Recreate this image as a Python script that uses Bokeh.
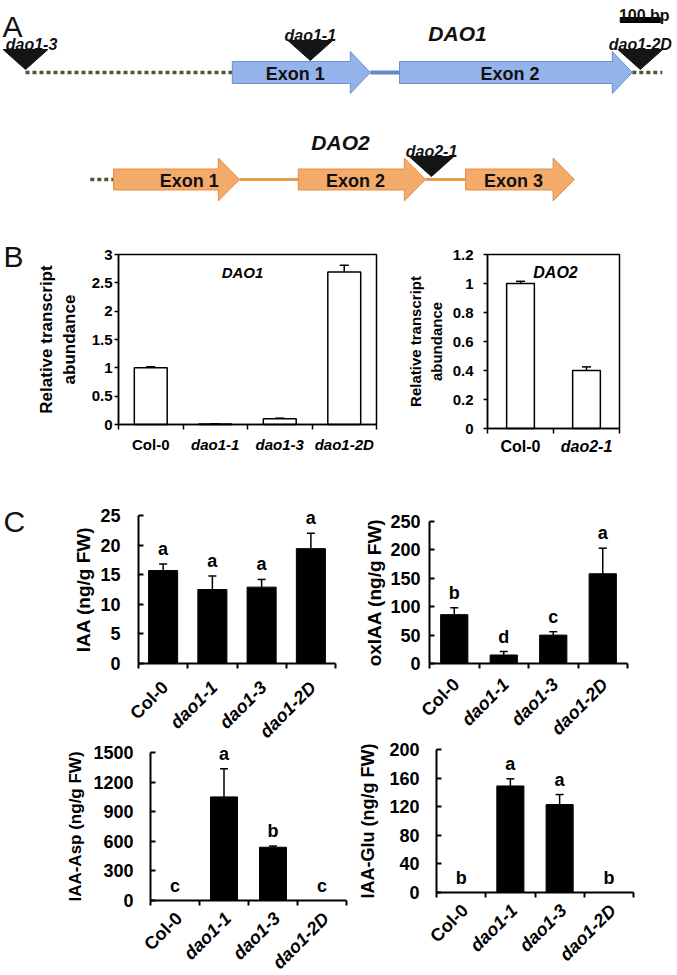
import math
from bokeh.plotting import figure
from bokeh.layouts import column, row
from bokeh.models import (Range1d, FixedTicker, NumeralTickFormatter, ColumnDataSource,
                          Whisker, TeeHead, LabelSet, Label, CustomJSTickFormatter,
                          BoxAnnotation)
from bokeh.core.properties import value, field
from bokeh.embed import file_html
from bokeh.resources import INLINE

FONT = "Liberation Sans"

# ================= DATA =================
# Panel A: gene models (positions in bp)
dao1_exon_start = [517, 935]
dao1_exon_end = [862, 1517]
dao1_exon_names = ["Exon 1", "Exon 2"]
dao1_flank_start = [0, 1517]
dao1_flank_end = [517, 1592]
dao1_intron_start = [862]
dao1_intron_end = [935]
dao1_alleles = ["dao1-3", "dao1-1", "dao1-2D"]
dao1_allele_bp = [0, 712, 1537]

dao2_exon_start = [220, 682, 1100]
dao2_exon_end = [535, 1000, 1372]
dao2_exon_names = ["Exon 1", "Exon 2", "Exon 3"]
dao2_flank_start = [162]
dao2_flank_end = [220]
dao2_intron_start = [535, 1000]
dao2_intron_end = [682, 1100]
dao2_alleles = ["dao2-1"]
dao2_allele_bp = [1015]
scale_bar_bp = 100
scale_bar_start_bp = 1487

# Panel B: relative transcript abundance
b_dao1_genotypes = ["Col-0", "dao1-1", "dao1-3", "dao1-2D"]
b_dao1_expr = [1.0, 0.01, 0.10, 2.69]
b_dao1_err = [0.02, 0.004, 0.012, 0.12]
b_dao1_yticks = [0, 0.5, 1, 1.5, 2, 2.5, 3]
b_dao2_genotypes = ["Col-0", "dao2-1"]
b_dao2_expr = [1.0, 0.40]
b_dao2_err = [0.015, 0.025]
b_dao2_yticks = [0, 0.2, 0.4, 0.6, 0.8, 1.0, 1.2]

# Panel C: metabolite levels (ng/g FW)
c_genotypes = ["Col-0", "dao1-1", "dao1-3", "dao1-2D"]
iaa = [15.7, 12.5, 12.9, 19.4]
iaa_err = [1.1, 2.3, 1.3, 2.6]
iaa_letters = ["a", "a", "a", "a"]
iaa_yticks = [0, 5, 10, 15, 20, 25]
oxiaa = [86, 15, 50, 158]
oxiaa_err = [12, 6, 6, 45]
oxiaa_letters = ["b", "d", "c", "a"]
oxiaa_yticks = [0, 50, 100, 150, 200, 250]
iaa_asp = [0, 1050, 540, 0]
iaa_asp_err = [0, 285, 12, 0]
iaa_asp_letters = ["c", "a", "b", "c"]
iaa_asp_yticks = [0, 300, 600, 900, 1200, 1500]
iaa_glu = [0, 149, 123, 0]
iaa_glu_err = [0, 10, 14, 0]
iaa_glu_letters = ["b", "a", "a", "b"]
iaa_glu_yticks = [0, 40, 80, 120, 160, 200]

# ================= PANEL A =================
PX_PER_BP = 0.4
BP0_PX = 25
A_W, A_H = 677, 215


def bp_at(px):
    return (px - BP0_PX) / PX_PER_BP


pa = figure(width=A_W, height=A_H, x_range=Range1d(bp_at(0), bp_at(A_W)),
            y_range=Range1d(A_H, 0), x_axis_type=None, y_axis_type=None,
            output_backend="svg", toolbar_location=None, min_border=0)
pa.grid.visible = False
pa.outline_line_color = None


def arrow_shapes(starts, ends, yc, bh, hh, hl):
    xs, ys = [], []
    for x0, x1 in zip(starts, ends):
        xs.append([x0, x1 - hl, x1 - hl, x1, x1 - hl, x1 - hl, x0])
        ys.append([yc - bh, yc - bh, yc - hh, yc, yc + hh, yc + bh, yc + bh])
    return xs, ys


def in_exon(bp, starts, ends):
    return any(s <= bp <= e for s, e in zip(starts, ends))


def draw_gene(exs, exe, names, fls, fle, ins, ine, alleles, allele_bp, yc, bh, hh, hl,
              fill, line, intron_color, intron_w, name_nudge):
    pa.segment(x0=fls, x1=fle, y0=[yc] * len(fls), y1=[yc] * len(fls),
               line_color="#4b5730", line_width=3.5, line_dash="4 3")
    pa.segment(x0=ins, x1=ine, y0=[yc] * len(ins), y1=[yc] * len(ins),
               line_color=intron_color, line_width=intron_w)
    xs, ys = arrow_shapes(exs, exe, yc, bh, hh, hl)
    pa.patches(xs=xs, ys=ys, fill_color=fill, line_color=line, line_width=1)
    lx = [s + (e - s) / 2 - hl * 0.3 + n for s, e, n in zip(exs, exe, name_nudge)]
    pa.text(x=lx, y=[yc + 1] * len(names), text=names, text_align="center",
            text_baseline="middle", text_font=value(FONT), text_font_style="bold",
            text_font_size="18px", text_color="#111111")
    half = 56
    txs, tys, lxs, lys = [], [], [], []
    for bp in allele_bp:
        apex = yc - bh - 1 if in_exon(bp, exs, exe) else yc - 3
        top = apex - 20
        txs.append([bp - half, bp + half, bp])
        tys.append([top, top, apex])
        lys.append(top - 5)
        # keep a label that would run past the left edge inside the picture
        lxs.append(max(bp, bp_at(31)))
    pa.patches(xs=txs, ys=tys, fill_color="#151515", line_color="#151515")
    pa.text(x=lxs, y=lys, text=alleles, text_align="center", text_baseline="alphabetic",
            text_font=value(FONT), text_font_style="bold italic", text_font_size="16px",
            text_color="#111111")


draw_gene(dao1_exon_start, dao1_exon_end, dao1_exon_names, dao1_flank_start, dao1_flank_end,
          dao1_intron_start, dao1_intron_end, dao1_alleles, dao1_allele_bp,
          72, 11, 21, 50, "#93b3ea", "#6d8fcf", "#6489c9", 4, [0, 0])
draw_gene(dao2_exon_start, dao2_exon_end, dao2_exon_names, dao2_flank_start, dao2_flank_end,
          dao2_intron_start, dao2_intron_end, dao2_alleles, dao2_allele_bp,
          179, 10.5, 21.5, 53, "#f4aa69", "#e08f48", "#e99b58", 3, [48, 0, 0])

pa.text(x=[bp_at(457), bp_at(340)], y=[33, 142], text=["DAO1", "DAO2"], text_align="center",
        text_baseline="alphabetic", text_font=value(FONT), text_font_style="bold italic",
        text_font_size="21px", text_color="#111111")
pa.quad(left=[scale_bar_start_bp], right=[scale_bar_start_bp + scale_bar_bp], top=[17],
        bottom=[22], fill_color="black", line_color="black")
pa.text(x=[scale_bar_start_bp + scale_bar_bp / 2 + 10], y=[15], text=["%d bp" % scale_bar_bp],
        text_align="center", text_baseline="alphabetic", text_font=value(FONT),
        text_font_style="bold", text_font_size="16px", text_color="#111111")
pa.text(x=[bp_at(2)], y=[26], text=["A"], text_align="left", text_baseline="alphabetic",
        text_font=value(FONT), text_font_size="30px", text_color="#111111")


# ================= BAR PANELS =================
def make_bar(fw, fh, L, T, W, H, cats, vals, errs, ymax, yticks, ylabel, boxed, bar_w,
             tick_fs, ylab_fs, cat_fs, tick_standoff, ylab_standoff, letters=None,
             rotate=False, cat_dx=0, cat_dy=10, title=None, title_px=None,
             panel_letter=None, letter_px=None):
    """L, T, W, H: canvas pixel box of the data area (0..n, 0..ymax)."""
    n = len(cats)

    def dx(px):
        return (px - L) / W * n

    def dy(py):
        return (T + H - py) / H * ymax

    p = figure(width=fw, height=fh, x_range=Range1d(dx(0), dx(fw)),
               y_range=Range1d(dy(fh), dy(0)), output_backend="svg",
               toolbar_location=None, min_border=0)
    p.grid.visible = False
    p.outline_line_color = None
    p.background_fill_color = "white"
    p.border_fill_color = "white"
    centers = [i + 0.5 for i in range(n)]
    src = ColumnDataSource(dict(x=centers, top=vals))
    keep = [i for i, e in enumerate(errs) if e > 0]
    wsrc = ColumnDataSource(dict(
        x=[centers[i] for i in keep],
        upper=[vals[i] + errs[i] for i in keep],
        lower=[(vals[i] - errs[i]) if boxed else vals[i] for i in keep]))
    lw = 1.5 if boxed else 2
    if boxed:
        p.vbar(x="x", top="top", width=bar_w, source=src, fill_color="white",
               line_color="black", line_width=1.5)
        p.add_layout(Whisker(source=wsrc, base="x", upper="upper", lower="lower",
                             dimension="height", line_color="black", line_width=1.5,
                             upper_head=TeeHead(size=9, line_color="black", line_width=1.5),
                             lower_head=TeeHead(size=9, line_color="black", line_width=1.5)))
        p.add_layout(BoxAnnotation(left=0, right=n, bottom=0, top=ymax, fill_color=None,
                                   fill_alpha=0, line_color="black", line_alpha=1,
                                   line_width=1.5))
    else:
        p.vbar(x="x", top="top", width=bar_w, source=src, fill_color="black",
               line_color="black", line_width=1)
        p.add_layout(Whisker(source=wsrc, base="x", upper="upper", lower="lower",
                             dimension="height", line_color="black", line_width=1.5,
                             upper_head=TeeHead(size=8, line_color="black", line_width=1.5),
                             lower_head=None))

    # x axis: ticks at category boundaries, category names drawn by a LabelSet
    p.xaxis.fixed_location = 0
    p.xaxis.bounds = (0, n)
    p.xaxis.ticker = FixedTicker(ticks=list(range(n + 1)))
    p.xaxis.formatter = CustomJSTickFormatter(code="return ''")
    p.xaxis.major_tick_out = 5
    p.xaxis.major_tick_in = 0
    p.xaxis.major_tick_line_color = "black"
    p.xaxis.major_tick_line_width = lw
    p.xaxis.axis_line_color = "black"
    p.xaxis.axis_line_width = lw

    # y axis
    p.yaxis.fixed_location = 0
    p.yaxis.bounds = (0, ymax)
    p.yaxis.ticker = FixedTicker(ticks=yticks)
    p.yaxis.formatter = NumeralTickFormatter(format="0.[0]")
    p.yaxis.major_tick_out = 4 if boxed else 0
    p.yaxis.major_tick_in = 0 if boxed else 5
    p.yaxis.major_tick_line_color = "black"
    p.yaxis.major_tick_line_width = lw
    p.yaxis.axis_line_color = "black"
    p.yaxis.axis_line_width = lw
    p.yaxis.major_label_text_font = FONT
    p.yaxis.major_label_text_font_style = "bold"
    p.yaxis.major_label_text_font_size = tick_fs
    p.yaxis.major_label_text_color = "black"
    p.yaxis.major_label_standoff = tick_standoff
    p.yaxis.axis_label = ylabel
    p.yaxis.axis_label_text_font = FONT
    p.yaxis.axis_label_text_font_style = "bold"
    p.yaxis.axis_label_text_font_size = ylab_fs
    p.yaxis.axis_label_text_color = "black"
    p.yaxis.axis_label_standoff = ylab_standoff

    styles = ["bold" if c.startswith("Col") else "bold italic" for c in cats]
    lsrc = ColumnDataSource(dict(x=[c + cat_dx / W * n for c in centers],
                                 y=[dy(T + H + cat_dy)] * n, text=cats, fs=styles))
    if rotate:
        p.add_layout(LabelSet(x="x", y="y", text="text", source=lsrc, angle=math.pi / 4,
                              text_align="right", text_baseline="middle",
                              text_font=value(FONT), text_font_style=field("fs"),
                              text_font_size=cat_fs, text_color="black"))
    else:
        p.add_layout(LabelSet(x="x", y="y", text="text", source=lsrc,
                              text_align="center", text_baseline="top",
                              text_font=value(FONT), text_font_style=field("fs"),
                              text_font_size=cat_fs, text_color="black"))

    if letters is not None:
        tsrc = ColumnDataSource(dict(x=centers, y=[v + e for v, e in zip(vals, errs)],
                                     t=letters))
        p.text(x="x", y="y", text="t", source=tsrc, text_align="center",
               text_baseline="bottom", y_offset=-5, text_font=value(FONT),
               text_font_style="bold", text_font_size="18px", text_color="black")

    if title is not None:
        p.add_layout(Label(x=dx(title_px[0]), y=dy(title_px[1]), text=title,
                           text_align="center", text_baseline="middle", text_font=FONT,
                           text_font_style="bold italic", text_font_size=title_px[2],
                           text_color="black"))
    if panel_letter is not None:
        p.add_layout(Label(x=dx(letter_px[0]), y=dy(letter_px[1]), text=panel_letter,
                           text_align="left", text_baseline="alphabetic", text_font=FONT,
                           text_font_style="normal", text_font_size="30px",
                           text_color="#111111"))
    return p


# Panel B  (figure row: y 215-480)
pb1 = make_bar(400, 265, 118, 39, 258, 170, b_dao1_genotypes, b_dao1_expr, b_dao1_err, 3,
               b_dao1_yticks, "Relative transcript\nabundance", True, 0.51,
               "15px", "17px", "15px", 2, 10, cat_dy=11,
               title="DAO1", title_px=(242, 57, "15px"), panel_letter="B", letter_px=(3, 41))
pb2 = make_bar(277, 265, 87, 39, 132, 174, b_dao2_genotypes, b_dao2_expr, b_dao2_err, 1.2,
               b_dao2_yticks, "Relative transcript\nabundance", True, 0.42,
               "15px", "15px", "16px", 10, 5, cat_dy=9,
               title="DAO2", title_px=(155, 57, "16px"))

# Panel C, left column (y 480-742, 742-975)
pc1 = make_bar(350, 262, 138, 35, 197, 148, c_genotypes, iaa, iaa_err, 25, iaa_yticks,
               "IAA (ng/g FW)", False, 0.59, "18px", "19px", "18px", 18, 3,
               letters=iaa_letters, rotate=True, cat_dx=2, cat_dy=21,
               panel_letter="C", letter_px=(3, 41))
pc3 = make_bar(350, 233, 150, 10, 196, 148, c_genotypes, iaa_asp, iaa_asp_err, 1500,
               iaa_asp_yticks, "IAA-Asp (ng/g FW)", False, 0.55, "18px", "17px", "18px", 17, 5,
               letters=iaa_asp_letters, rotate=True, cat_dx=4, cat_dy=15)
# Panel C, right column (y 480-739, 739-975)
pc2 = make_bar(327, 259, 79, 41, 198, 142, c_genotypes, oxiaa, oxiaa_err, 250, oxiaa_yticks,
               "oxIAA (ng/g FW)", False, 0.55, "18px", "19px", "18px", 9, 2,
               letters=oxiaa_letters, rotate=True, cat_dx=2, cat_dy=18)
pc4 = make_bar(327, 236, 86, 10, 197, 143, c_genotypes, iaa_glu, iaa_glu_err, 200,
               iaa_glu_yticks, "IAA-Glu (ng/g FW)", False, 0.55, "18px", "18px", "18px", 17, 8,
               letters=iaa_glu_letters, rotate=True, cat_dx=4, cat_dy=15)

layout = column(pa, row(pb1, pb2), row(column(pc1, pc3), column(pc2, pc4)))
open("out.html", "w").write(file_html(layout, INLINE))
